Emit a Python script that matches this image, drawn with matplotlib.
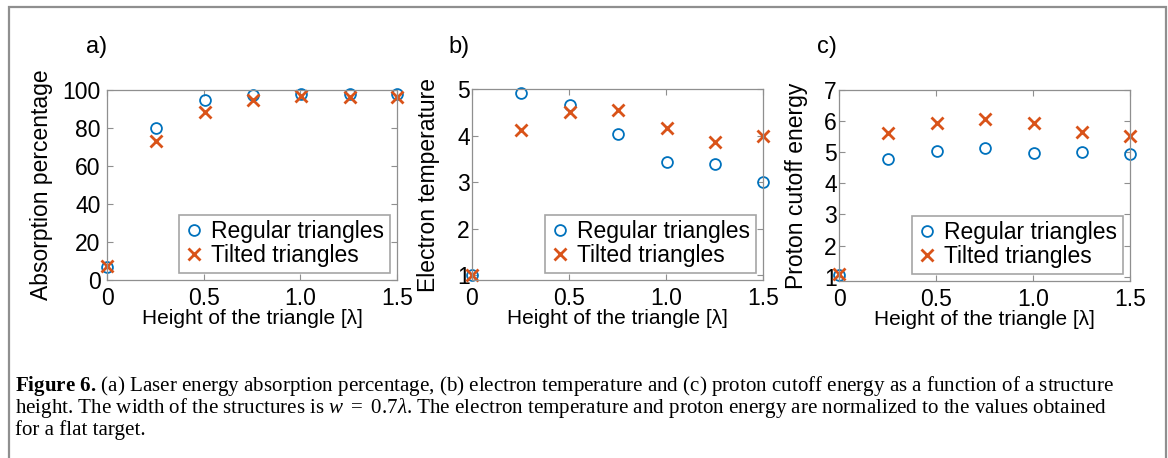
import matplotlib
matplotlib.use("Agg")
import matplotlib.pyplot as plt
from matplotlib.patches import Rectangle

# structure height in units of the laser wavelength
heights = [0.0, 0.255, 0.505, 0.755, 1.005, 1.255, 1.5]

absorption_regular = [7.1, 80.1, 94.7, 97.3, 98.0, 98.0, 98.0]
absorption_tilted = [7.5, 73.3, 88.6, 94.5, 97.0, 96.3, 96.5]

temperature_regular = [1.0, 4.91, 4.65, 4.03, 3.44, 3.40, 3.0]
temperature_tilted = [1.0, 4.13, 4.50, 4.54, 4.16, 3.87, 3.99]

cutoff_regular = [1.05, 4.78, 5.05, 5.15, 4.97, 5.01, 4.93]
cutoff_tilted = [1.07, 5.62, 5.95, 6.08, 5.95, 5.64, 5.51]

x_ticks = [0, 0.5, 1.0, 1.5]
x_tick_labels = ["0", "0.5", "1.0", "1.5"]

series_labels = ["Regular triangles", "Tilted triangles"]
panel_letters = ["a)", "b)", "c)"]
y_labels = ["Absorption percentage", "Electron temperature", "Proton cutoff energy"]
x_label = "Height of the triangle [\u03bb]"

caption_lines = [
    r"$\mathbf{Figure\ 6.}\,$(a) Laser energy absorption percentage, (b) electron temperature and (c) proton cutoff energy as a function of a structure",
    r"height. The width of the structures is $w\ =\ 0.7\lambda$. The electron temperature and proton energy are normalized to the values obtained",
    "for a flat target.",
]

BLUE = "#0072BD"
ORANGE = "#D95319"
FRAME = "#8f8f8f"

W, H = 1168, 458

plt.rcParams["font.family"] = ["Liberation Sans", "DejaVu Sans"]
plt.rcParams["mathtext.fontset"] = "custom"
plt.rcParams["mathtext.rm"] = "Liberation Serif"
plt.rcParams["mathtext.it"] = "Liberation Serif:italic"
plt.rcParams["mathtext.bf"] = "Liberation Serif:bold"


def px_rect(left, top, right, bottom):
    return [left / W, 1 - bottom / H, (right - left) / W, (bottom - top) / H]


def draw_panel(fig, rect, regular, tilted, ylim, yticks, ylabel, ylabel_x, ypad):
    ax = fig.add_axes(rect)
    ax.plot(heights, regular, linestyle="none", marker="o", markersize=7.8,
            markerfacecolor="none", markeredgecolor=BLUE, markeredgewidth=1.3,
            label=series_labels[0], clip_on=False)
    ax.plot(heights, tilted, linestyle="none", marker="x", markersize=9.2,
            markeredgecolor=ORANGE, markeredgewidth=2.0,
            label=series_labels[1], clip_on=False)

    ax.set_xlim(0, 1.5)
    ax.set_ylim(*ylim)
    ax.set_xticks(x_ticks)
    ax.set_xticklabels(x_tick_labels)
    ax.set_yticks(yticks)

    for spine in ax.spines.values():
        spine.set_color(FRAME)
        spine.set_linewidth(0.9)
    ax.tick_params(axis="both", direction="in", length=4, width=0.8, color=FRAME,
                   top=True, right=True, labelsize=16.5, labelcolor="black")
    ax.tick_params(axis="x", pad=5)
    ax.tick_params(axis="y", pad=ypad)

    ax.set_xlabel(x_label, fontsize=15)
    ax.xaxis.set_label_coords(0.5, -0.15)
    ax.set_ylabel(ylabel, fontsize=16.5)
    ax.yaxis.set_label_coords(ylabel_x, 0.5)

    leg = ax.legend(loc="lower right", fontsize=16.5, frameon=True, fancybox=False,
                    borderaxespad=0.3, borderpad=0.25, labelspacing=0.05,
                    handlelength=0.8, handletextpad=0.35)
    leg.get_frame().set_edgecolor(FRAME)
    leg.get_frame().set_linewidth(1.2)
    return ax


def main():
    fig = plt.figure(figsize=(W / 100, H / 100), dpi=100)

    # grey border around the figure block
    fig.patches.append(Rectangle((9 / W, -0.1), (1166 - 9) / W, 1.1 - 7 / H,
                                 transform=fig.transFigure, fill=False,
                                 edgecolor=FRAME, linewidth=1.6))

    draw_panel(fig, px_rect(107, 90, 397, 280), absorption_regular, absorption_tilted,
               (0, 100), [0, 20, 40, 60, 80, 100], y_labels[0], -0.186, 4.5)
    draw_panel(fig, px_rect(472, 89, 763, 280), temperature_regular, temperature_tilted,
               (0.9, 5), [1, 2, 3, 4, 5], y_labels[1], -0.11, 1.5)
    draw_panel(fig, px_rect(839, 90, 1130, 281), cutoff_regular, cutoff_tilted,
               (0.86, 7), [1, 2, 3, 4, 5, 6, 7], y_labels[2], -0.107, 1.5)

    for letter, x in zip(panel_letters, [97, 459, 827]):
        fig.text(x / W, 1 - 47 / H, letter, fontsize=17, ha="center", va="center")

    for i, line in enumerate(caption_lines):
        fig.text(15 / W, 1 - (391 + 22 * i) / H, line, fontsize=15.1, va="baseline",
                 ha="left", family=["Liberation Serif", "DejaVu Serif"])

    fig.savefig("out.png", dpi=100)
    plt.close(fig)


if __name__ == "__main__":
    main()
